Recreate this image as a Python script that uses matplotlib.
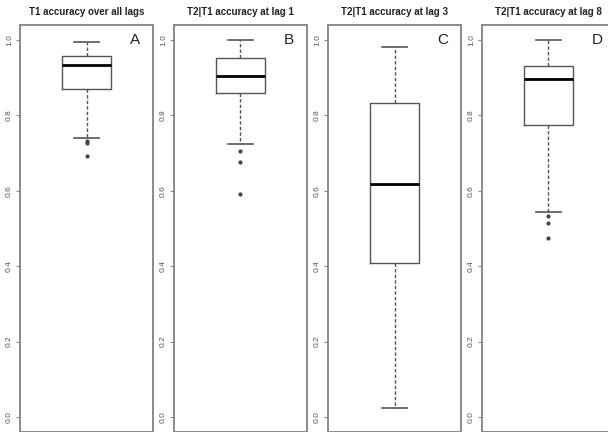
import matplotlib
matplotlib.use("Agg")
import matplotlib.pyplot as plt

titles = ["T1 accuracy over all lags", "T2|T1 accuracy at lag 1",
          "T2|T1 accuracy at lag 3", "T2|T1 accuracy at lag 8"]
letters = ["A", "B", "C", "D"]

# box stats
whisk_lo = [0.739, 0.725, 0.024, 0.545]
q1 = [0.870, 0.860, 0.409, 0.775]
med = [0.935, 0.904, 0.618, 0.896]
q3 = [0.958, 0.953, 0.832, 0.931]
whisk_hi = [0.995, 1.000, 0.982, 1.000]
outliers = [[0.731, 0.727, 0.693],
            [0.706, 0.676, 0.591],
            [],
            [0.533, 0.515, 0.474]]

yticks = [0.0, 0.2, 0.4, 0.6, 0.8, 1.0]

plt.rcParams['font.family'] = ['Liberation Sans', 'DejaVu Sans']

fig = plt.figure(figsize=(6.08, 4.32), dpi=100)
W, H = 608, 432
frame_col = "#8a8a8a"
line_col = "#555555"

for i in range(4):
    left = 20 + 154 * i
    ax = fig.add_axes([left / W, 0.0, 133 / W, 407 / H])
    stats = [dict(whislo=whisk_lo[i], q1=q1[i], med=med[i], q3=q3[i],
                  whishi=whisk_hi[i], fliers=outliers[i])]
    ax.bxp(stats, positions=[1], widths=0.4, showfliers=True,
           boxprops=dict(color=line_col, linewidth=1.0),
           medianprops=dict(color="black", linewidth=2.0),
           whiskerprops=dict(color=line_col, linewidth=1.0, linestyle=(0, (2.5, 1.5))),
           capprops=dict(color=line_col, linewidth=1.2),
           capwidths=0.2,
           flierprops=dict(marker="o", markersize=2.0, markerfacecolor="#444444",
                           markeredgecolor="#444444", linestyle="none"))
    ax.set_xlim(0.46, 1.54)
    ax.set_ylim(-0.04, 1.04)
    ax.set_xticks([])
    ax.set_yticks(yticks)
    ax.set_yticklabels([f"{t:.1f}" for t in yticks], rotation=90, va="center",
                       fontsize=6, color="#555555")
    ax.tick_params(axis="y", length=3, width=0.8, color=frame_col, pad=2)
    for s in ax.spines.values():
        s.set_color(frame_col)
        s.set_linewidth(1.4)
    ax.set_title(titles[i], fontsize=7, fontweight="bold", pad=7, color="#222222")
    ax.text(0.865, 1.0, letters[i], transform=ax.get_yaxis_transform(),
            fontsize=11, ha="center", va="center", color="#222222")

fig.savefig("out.png", dpi=100)
